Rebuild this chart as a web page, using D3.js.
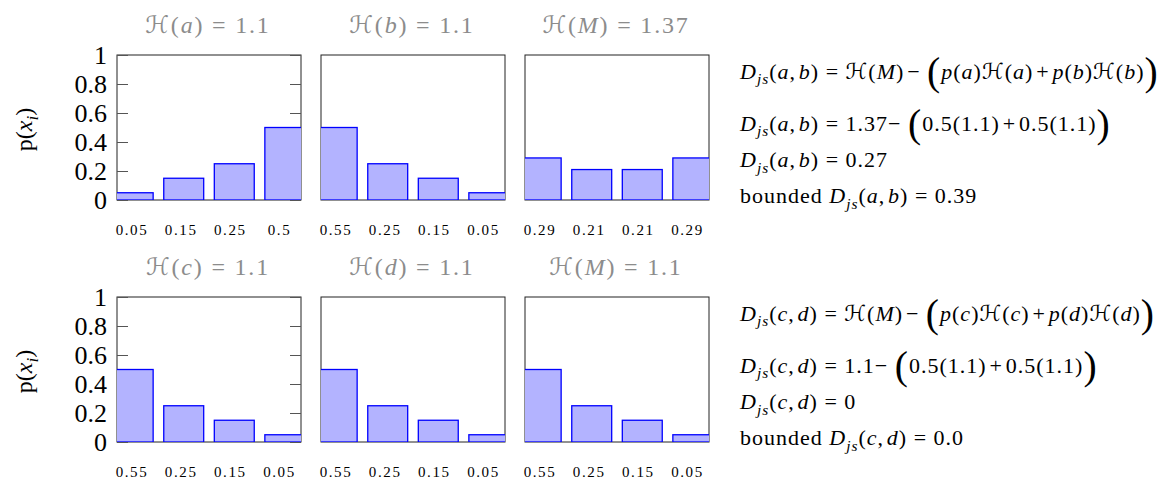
<!DOCTYPE html>
<html>
<head>
<meta charset="utf-8">
<script src="https://cdn.jsdelivr.net/npm/d3@7"></script>
<style>
body { margin: 0; background: #fff; }
svg text { font-family: "Liberation Serif", "Times New Roman", "DejaVu Serif", serif; white-space: pre; }
</style>
</head>
<body>
<script>
// bar heights for every panel
var barsA = [0.05, 0.15, 0.25, 0.5],
	barsB = [0.5, 0.25, 0.15, 0.05],
	barsM1 = [0.29, 0.21, 0.21, 0.29],
	barsC = [0.5, 0.25, 0.15, 0.05],
	barsD = [0.5, 0.25, 0.15, 0.05],
	barsM2 = [0.5, 0.25, 0.15, 0.05];

// labels printed under the bars
var labelsA = ["0.05", "0.15", "0.25", "0.5"],
	labelsB = ["0.55", "0.25", "0.15", "0.05"],
	labelsM1 = ["0.29", "0.21", "0.21", "0.29"],
	labelsLow = ["0.55", "0.25", "0.15", "0.05"];

var names = ["a", "b", "M", "c", "d", "M"];
var entropies = ["1.1", "1.1", "1.37", "1.1", "1.1", "1.1"];
var yTicks = [0, 0.2, 0.4, 0.6, 0.8, 1];

// formulas on the right, \H = calligraphic H, \( \) = big parens, \t{} = roman text
var eqTop = [
	"D_{js}(a,\u200Ab) = \\H(M)\u200A\u2212 \\(p(a)\\H(a)\u200A+\u200Ap(b)\\H(b)\\)",
	"D_{js}(a,\u200Ab) = 1.37\u2212 \\(0.5(1.1)\u200A+\u200A0.5(1.1)\\)",
	"D_{js}(a,\u200Ab) = 0.27",
	"\\t{bounded }D_{js}(a,\u200Ab) = 0.39"
];
var eqBottom = [
	"D_{js}(c,\u200Ad) = \\H(M)\u200A\u2212 \\(p(c)\\H(c)\u200A+\u200Ap(d)\\H(d)\\)",
	"D_{js}(c,\u200Ad) = 1.1\u2212 \\(0.5(1.1)\u200A+\u200A0.5(1.1)\\)",
	"D_{js}(c,\u200Ad) = 0",
	"\\t{bounded }D_{js}(c,\u200Ad) = 0.0"
];

var width = 1168, height = 479;
var panelW = 184, panelH = 145;
var colX = [117, 321, 525], rowY = [55, 297];
var barW = 0.79;

var svg = d3.select("body").append("svg")
	.attr("width", width)
	.attr("height", height);

svg.append("rect").attr("width", width).attr("height", height).attr("fill", "#fff");

var x = d3.scaleLinear().domain([0.68, 4.32]).range([0, panelW]);
var y = d3.scaleLinear().domain([0, 1]).range([panelH, 0]);
var xl = d3.scalePoint().domain([0, 1, 2, 3]).range([15, 162.5]);

// tiny TeX-ish tokenizer
function parseMath(src) {
	var out = [], i = 0, end;
	while (i < src.length) {
		var ch = src[i];
		if (ch === "\\") {
			var cmd = src[i + 1];
			if (cmd === "H") { out.push({t: "\u210B", k: "cal"}); i += 2; }
			else if (cmd === "(" || cmd === ")") { out.push({t: cmd, k: "big"}); i += 2; }
			else { end = src.indexOf("}", i); out.push({t: src.slice(i + 3, end), k: "rm"}); i = end + 1; }
		} else if (ch === "_") {
			end = src.indexOf("}", i);
			out.push({t: src.slice(i + 2, end), k: "sub"});
			i = end + 1;
		} else if (/[A-Za-z]/.test(ch)) { out.push({t: ch, k: "it"}); i++; }
		else { out.push({t: ch, k: "rm"}); i++; }
	}
	return out;
}

function mathText(sel, src) {
	var shift = 0;
	parseMath(src).forEach(function(tk) {
		var target = tk.k === "sub" ? 0.25 : tk.k === "big" ? 0.3 : 0;
		var ts = sel.append("tspan")
			.attr("dy", (target - shift) + "em")
			.text(tk.t);
		if (tk.k === "it" || tk.k === "sub") ts.attr("font-style", "italic");
		if (tk.k === "sub") ts.attr("font-size", "0.7em").attr("dy", (target - shift) / 0.7 + "em");
		if (tk.k === "big") ts.attr("font-size", "1.8em").attr("dy", (target - shift) / 1.8 + "em");
		if (tk.k === "cal") ts.style("font-family", "'DejaVu Serif', 'DejaVu Sans'").attr("font-style", "italic");
		shift = target;
	});
	return sel;
}

var panels = [
	{bars: barsA, labels: labelsA},
	{bars: barsB, labels: labelsB},
	{bars: barsM1, labels: labelsM1},
	{bars: barsC, labels: labelsLow},
	{bars: barsD, labels: labelsLow},
	{bars: barsM2, labels: labelsLow}
];

svg.append("defs").append("clipPath").attr("id", "clip")
	.append("rect").attr("width", panelW).attr("height", panelH);

panels.forEach(function(p, k) {
	var col = k % 3, row = Math.floor(k / 3);
	var g = svg.append("g")
		.attr("transform", "translate(" + colX[col] + "," + rowY[row] + ")");

	// frame
	g.append("rect")
		.attr("x", 0).attr("y", 0)
		.attr("width", panelW).attr("height", panelH)
		.attr("fill", "none")
		.attr("stroke", "#222")
		.attr("stroke-width", 1);

	if (col === 0) {
		var yAxis = d3.axisLeft(y).tickValues(yTicks)
			.tickSizeInner(-11).tickSizeOuter(0).tickPadding(10)
			.tickFormat(d3.format(""));
		var ya = g.append("g").call(yAxis);
		ya.select(".domain").remove();
		ya.selectAll("line").attr("stroke", "#555");
		ya.selectAll("text")
			.attr("font-size", 26)
			.attr("fill", "#000");

		var yr = g.append("g").attr("transform", "translate(" + panelW + ",0)")
			.call(d3.axisRight(y).tickValues(yTicks).tickSizeInner(-11).tickSizeOuter(0).tickFormat(""));
		yr.select(".domain").remove();
		yr.selectAll("line").attr("stroke", "#555");

		mathText(svg.append("text")
			.attr("transform", "translate(32," + (rowY[row] + panelH / 2 + 2) + ") rotate(-90)")
			.attr("text-anchor", "middle")
			.attr("font-size", 24), "\\t{p}(x_{i})");
	}

	// bars
	g.append("g").attr("clip-path", "url(#clip)")
		.selectAll("rect")
		.data(p.bars)
		.enter().append("rect")
			.attr("x", function(d, i) { return x(i + 1 - barW / 2); })
			.attr("width", function() { return x(1 + barW / 2) - x(1 - barW / 2); })
			.attr("y", function(d) { return y(d); })
			.attr("height", function(d) { return y(0) - y(d); })
			.attr("fill", "#b3b3ff")
			.attr("stroke", "#0000ff")
			.attr("stroke-width", 1.3);

	// labels under bars
	g.selectAll(".lab")
		.data(p.labels)
		.enter().append("text")
			.attr("class", "lab")
			.attr("x", function(d, i) { return xl(i); })
			.attr("y", panelH + 35)
			.attr("text-anchor", "middle")
			.attr("font-size", 15)
			.attr("letter-spacing", 1.6)
			.text(function(d) { return d; });

	// title
	mathText(g.append("text")
		.attr("x", panelW / 2 - 1)
		.attr("y", -22)
		.attr("text-anchor", "middle")
		.attr("font-size", 24)
		.attr("letter-spacing", 1.8)
		.attr("fill", "#8c8c8c"), "\\H(" + names[k] + ") = " + entropies[k]);
});

// formulas
var eqBase = [78.5, 130.5, 167.3, 203.3];
[eqTop, eqBottom].forEach(function(lines, row) {
	lines.forEach(function(src, j) {
		mathText(svg.append("text")
			.attr("x", 740)
			.attr("y", eqBase[j] + (rowY[row] - rowY[0]))
			.attr("font-size", 22)
			.attr("letter-spacing", 1)
			.attr("fill", "#000"), src);
	});
});
</script>
</body>
</html>
